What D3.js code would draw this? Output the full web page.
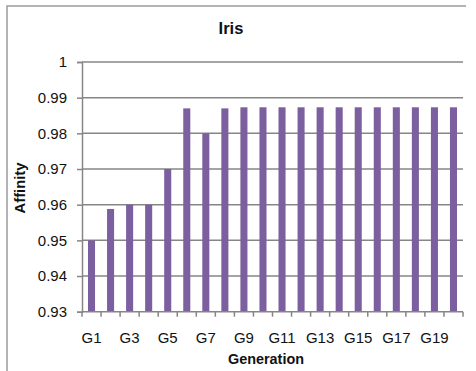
<!DOCTYPE html>
<html>
<head>
<meta charset="utf-8">
<script src="https://cdn.jsdelivr.net/npm/d3@7"></script>
<style>
  html, body { margin: 0; padding: 0; background: #fff; }
  svg { display: block; }
  text { font-family: "Liberation Sans", Arial, sans-serif; fill: #111; }
</style>
</head>
<body>
<svg id="chart" width="476" height="371"></svg>
<script>
// Affinity per generation for the Iris data set
const generations = ["G1","G2","G3","G4","G5","G6","G7","G8","G9","G10",
                     "G11","G12","G13","G14","G15","G16","G17","G18","G19","G20"];
const affinity = [0.95, 0.9588, 0.96, 0.96, 0.97, 0.987, 0.98, 0.987, 0.9873, 0.9873,
                  0.9873, 0.9873, 0.9873, 0.9873, 0.9873, 0.9873, 0.9873, 0.9873, 0.9873, 0.9873];
const yTicks = [0.93, 0.94, 0.95, 0.96, 0.97, 0.98, 0.99, 1];
const yTickLabels = ["0.93", "0.94", "0.95", "0.96", "0.97", "0.98", "0.99", "1"];

const svg = d3.select("#chart");
const plot = { left: 82, right: 463, top: 62, bottom: 311.7 };
const barColor = "#7b5f9f";
const gridColor = "#868686";

// chart frame (left and top edges)
svg.append("path")
  .attr("d", "M7,371 L7,6 L466,6")
  .attr("fill", "none").attr("stroke", "#9c9c9c").attr("stroke-width", 1.5);

const x = d3.scaleBand().domain(generations).range([plot.left, plot.right]).padding(0);
const y = d3.scaleLinear().domain([0.93, 1]).range([plot.bottom, plot.top]);

// horizontal gridlines
svg.append("g").selectAll("line").data(yTicks.slice(1)).join("line")
  .attr("x1", plot.left).attr("x2", plot.right)
  .attr("y1", d => y(d)).attr("y2", d => y(d))
  .attr("stroke", gridColor).attr("stroke-width", 1.5);

// bars
const barW = x.bandwidth() * 0.37;
svg.append("g").selectAll("rect").data(affinity).join("rect")
  .attr("x", (d, i) => x(generations[i]) + (x.bandwidth() - barW) / 2)
  .attr("width", barW)
  .attr("y", d => y(d))
  .attr("height", d => y(0.93) - y(d))
  .attr("fill", barColor);

// y axis
const yAxis = d3.axisLeft(y).tickValues(yTicks)
  .tickFormat((d, i) => yTickLabels[i]).tickSize(5).tickPadding(10);
const gy = svg.append("g").attr("transform", `translate(${plot.left},0)`).call(yAxis);
gy.select(".domain").attr("stroke", gridColor).attr("stroke-width", 1.5);
gy.selectAll(".tick line").attr("stroke", gridColor).attr("stroke-width", 1.5);
gy.selectAll(".tick text").attr("font-size", 15).attr("fill", "#111")
  .style("font-family", "'Liberation Sans', Arial, sans-serif");

// x axis: ticks at category boundaries, labels on every other generation
const gx = svg.append("g").attr("transform", `translate(0,${plot.bottom})`);
gx.append("line").attr("x1", plot.left).attr("x2", plot.right)
  .attr("y1", 0).attr("y2", 0).attr("stroke", gridColor).attr("stroke-width", 1.5);
const bounds = generations.map(g => x(g)).concat([plot.right]);
gx.selectAll("line.tk").data(bounds).join("line").attr("class", "tk")
  .attr("x1", d => d).attr("x2", d => d).attr("y1", 0).attr("y2", 5)
  .attr("stroke", gridColor).attr("stroke-width", 1.5);
gx.selectAll("text").data(generations.filter((g, i) => i % 2 === 0)).join("text")
  .attr("x", d => x(d) + x.bandwidth() / 2)
  .attr("y", 31)
  .attr("text-anchor", "middle")
  .attr("font-size", 15)
  .text(d => d);

// titles
svg.append("text").attr("x", 231).attr("y", 34).attr("text-anchor", "middle")
  .attr("font-size", 16.5).attr("font-weight", "bold").text("Iris");
svg.append("text").attr("x", 266).attr("y", 364).attr("text-anchor", "middle")
  .attr("font-size", 14.4).attr("font-weight", "bold").text("Generation");
svg.append("text").attr("transform", "translate(25,188) rotate(-90)")
  .attr("text-anchor", "middle").attr("font-size", 14.8).attr("font-weight", "bold")
  .text("Affinity");
</script>
</body>
</html>
